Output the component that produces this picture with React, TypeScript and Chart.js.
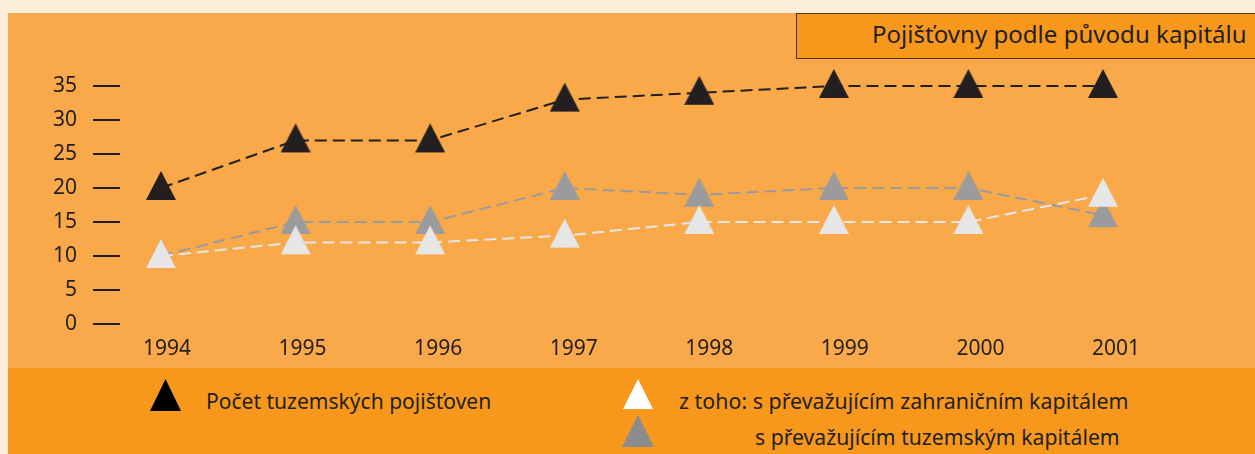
import React, { useEffect, useLayoutEffect, useRef, useState } from "react";
import { Chart, registerables } from "chart.js";

Chart.register(...registerables);

// ---- data ----
const years = [1994, 1995, 1996, 1997, 1998, 1999, 2000, 2001];
const yTickValues = [0, 5, 10, 15, 20, 25, 30, 35];
const domesticInsurers = [20, 27, 27, 33, 34, 35, 35, 35];
const foreignCapital = [10, 12, 12, 13, 15, 15, 15, 19];
const domesticCapital = [10, 15, 15, 20, 19, 20, 20, 16];
const seriesLabels = [
  "Počet tuzemských pojišťoven",
  "z toho: s převažujícím zahraničním kapitálem",
  "s převažujícím tuzemským kapitálem",
];
const titleText = "Pojišťovny podle původu kapitálu";

const FONT = "'Noto Sans', 'Open Sans', sans-serif";
const INK = "#231F20";

function triangleImage(color: string, w: number, up: number, down: number) {
  const c = document.createElement("canvas");
  const h = 2 * Math.max(up, down);
  c.width = w;
  c.height = h;
  const ctx = c.getContext("2d")!;
  const cy = h / 2;
  ctx.fillStyle = color;
  ctx.beginPath();
  ctx.moveTo(w / 2, cy - up);
  ctx.lineTo(w, cy + down);
  ctx.lineTo(0, cy + down);
  ctx.closePath();
  ctx.fill();
  return c;
}

function FitText({ text, width, style }: { text: string; width: number; style: React.CSSProperties }) {
  const ref = useRef<HTMLSpanElement>(null);
  const [sx, setSx] = useState(1);
  useLayoutEffect(() => {
    if (ref.current) {
      const w = ref.current.offsetWidth;
      if (w) setSx(width / w);
    }
  }, [text, width]);
  return (
    <span
      ref={ref}
      style={{
        position: "absolute",
        whiteSpace: "nowrap",
        display: "inline-block",
        lineHeight: 1,
        fontFamily: FONT,
        color: INK,
        transform: `scaleX(${sx})`,
        transformOrigin: "left top",
        ...style,
      }}
    >
      {text}
    </span>
  );
}

function Tri({ x, y, w, h, color }: { x: number; y: number; w: number; h: number; color: string }) {
  return (
    <svg style={{ position: "absolute", left: x, top: y }} width={w} height={h}>
      <polygon points={`${w / 2},0 ${w},${h} 0,${h}`} fill={color} />
    </svg>
  );
}

export default function App() {
  const canvasRef = useRef<HTMLCanvasElement>(null);

  useEffect(() => {
    if (!canvasRef.current) return;
    const blackTri = triangleImage("#231F20", 30, 17, 12);
    const whiteTri = triangleImage("#E6E6E6", 30, 17, 12);
    const grayTri = triangleImage("#9B9B9D", 30, 17, 12);
    const areaW = 1229 - 112;
    // point axis
    const pxPerYear = 942 / 7;
    const xMin = 1994 - 41 / pxPerYear;
    const xMax = xMin + areaW / pxPerYear;
    // label axis (labels sit slightly right of the points in the original)
    const lblPerYear = 949 / 7;
    const lMin = 1994 - 47 / lblPerYear;
    const lMax = lMin + areaW / lblPerYear;

    const mk = (label: string, vals: number[], color: string, img: HTMLCanvasElement) => ({
      label,
      data: years.map((yr, i) => ({ x: yr, y: vals[i] })),
      borderColor: color,
      borderWidth: 2,
      borderDash: [12, 6],
      tension: 0,
      fill: false,
      pointStyle: img,
      pointRadius: 15,
      pointHoverRadius: 15,
      clip: false as any,
    });

    const chart = new Chart(canvasRef.current, {
      type: "line",
      data: {
        datasets: [
          mk(seriesLabels[0], domesticInsurers, "#231F20", blackTri),
          mk(seriesLabels[1], foreignCapital, "#E6E6E6", whiteTri),
          mk(seriesLabels[2], domesticCapital, "#9B9B9D", grayTri),
        ],
      },
      options: {
        animation: false,
        responsive: false,
        maintainAspectRatio: false,
        events: [],
        layout: { padding: { top: 73, right: 18, bottom: 0, left: 0 } },
        plugins: { legend: { display: false }, title: { display: false }, tooltip: { enabled: false } },
        scales: {
          x: {
            type: "linear",
            position: "bottom",
            min: xMin,
            max: xMax,
            grid: { display: false, drawTicks: false },
            border: { display: false },
            ticks: { display: false },
            afterFit: (s: any) => {
              s.height = 0;
            },
          },
          xLabels: {
            type: "linear",
            position: "bottom",
            min: lMin,
            max: lMax,
            grid: { display: false, drawTicks: false },
            border: { display: false },
            afterBuildTicks: (s: any) => {
              s.ticks = years.map((v) => ({ value: v }));
            },
            afterFit: (s: any) => {
              s.height = 44;
            },
            ticks: {
              autoSkip: false,
              maxRotation: 0,
              padding: 12,
              color: INK,
              font: { family: FONT, size: 21 },
              callback: (v: any) => String(v),
            },
          },
          y: {
            min: 0,
            max: 35,
            grid: { display: true, drawOnChartArea: false, drawTicks: true, tickLength: 27, color: INK, lineWidth: 2 },
            border: { display: false },
            afterBuildTicks: (s: any) => {
              s.ticks = yTickValues.map((v) => ({ value: v }));
            },
            afterFit: (s: any) => {
              s.width = 112;
            },
            ticks: {
              padding: 16,
              color: INK,
              font: { family: FONT, size: 21 },
              callback: (v: any) => String(v),
            },
          },
        },
      },
    });
    return () => chart.destroy();
  }, []);

  return (
    <div style={{ position: "fixed", inset: 0, background: "#FDEEDC", overflow: "hidden" }}>
      <div
        style={{
          position: "absolute",
          left: 8,
          top: 13,
          width: 1247,
          height: 441,
          background: "#F9A84A",
          overflow: "hidden",
        }}
      >
        <canvas ref={canvasRef} width={1247} height={355} style={{ position: "absolute", left: 0, top: 0 }} />
        <div
          style={{
            position: "absolute",
            left: 788,
            top: 0,
            width: 480,
            height: 46,
            boxSizing: "border-box",
            border: "1px solid #4A3420",
            background: "#F7981D",
          }}
        />
        <FitText text={titleText} width={375} style={{ left: 864, top: 9, fontSize: 24 }} />
        <div style={{ position: "absolute", left: 0, top: 355, width: 1247, height: 86, background: "#F7981D" }} />
        <Tri x={142} y={366} w={31} h={32} color="#000000" />
        <FitText text={seriesLabels[0]} width={285} style={{ left: 198, top: 376, fontSize: 22 }} />
        <Tri x={615} y={366} w={30} h={30} color="#FFFFFF" />
        <FitText text={seriesLabels[1]} width={449} style={{ left: 671, top: 376, fontSize: 22 }} />
        <Tri x={614} y={402} w={32} h={32} color="#8C8C8C" />
        <FitText text={seriesLabels[2]} width={365} style={{ left: 747, top: 412, fontSize: 22 }} />
      </div>
    </div>
  );
}
